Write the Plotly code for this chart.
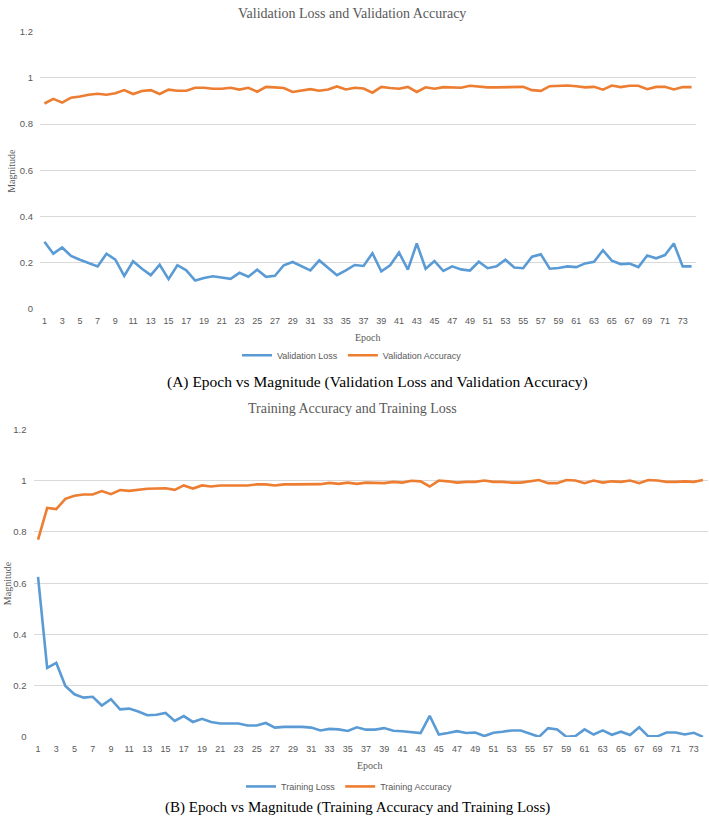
import plotly.graph_objects as go

epochs = list(range(1, 75))
tick_epochs = list(range(1, 74, 2))

val_loss = [0.291, 0.239, 0.266, 0.229, 0.213, 0.199, 0.184, 0.239, 0.213, 0.143,
            0.206, 0.174, 0.146, 0.191, 0.129, 0.189, 0.167, 0.123, 0.134, 0.141,
            0.137, 0.130, 0.156, 0.139, 0.170, 0.139, 0.143, 0.189, 0.203, 0.186,
            0.167, 0.210, 0.179, 0.146, 0.167, 0.190, 0.186, 0.241, 0.163, 0.189,
            0.244, 0.170, 0.283, 0.174, 0.207, 0.164, 0.184, 0.171, 0.166, 0.204,
            0.176, 0.184, 0.213, 0.179, 0.176, 0.226, 0.236, 0.174, 0.177, 0.184,
            0.181, 0.197, 0.204, 0.254, 0.209, 0.194, 0.196, 0.181, 0.231, 0.219,
            0.233, 0.283, 0.184, 0.184]

val_acc = [0.889, 0.909, 0.893, 0.914, 0.919, 0.927, 0.931, 0.927, 0.933, 0.947,
           0.930, 0.943, 0.947, 0.930, 0.949, 0.944, 0.944, 0.957, 0.957, 0.953,
           0.953, 0.957, 0.949, 0.957, 0.940, 0.961, 0.959, 0.956, 0.939, 0.944,
           0.951, 0.944, 0.950, 0.963, 0.950, 0.957, 0.954, 0.936, 0.961, 0.956,
           0.953, 0.961, 0.939, 0.959, 0.953, 0.960, 0.960, 0.957, 0.966, 0.961,
           0.959, 0.959, 0.959, 0.961, 0.961, 0.947, 0.944, 0.964, 0.967, 0.967,
           0.964, 0.959, 0.961, 0.949, 0.967, 0.960, 0.966, 0.966, 0.951, 0.961,
           0.961, 0.950, 0.960, 0.960]

train_loss = [0.625, 0.270, 0.289, 0.199, 0.167, 0.154, 0.157, 0.123, 0.148, 0.108,
              0.111, 0.100, 0.085, 0.087, 0.094, 0.063, 0.082, 0.059, 0.071, 0.059,
              0.053, 0.053, 0.053, 0.045, 0.045, 0.055, 0.037, 0.040, 0.040, 0.040,
              0.037, 0.026, 0.032, 0.030, 0.024, 0.038, 0.029, 0.029, 0.035, 0.025,
              0.023, 0.019, 0.016, 0.083, 0.010, 0.016, 0.023, 0.016, 0.018, 0.004,
              0.017, 0.021, 0.026, 0.026, 0.013, 0.001, 0.035, 0.030, 0.001, 0.004,
              0.030, 0.010, 0.026, 0.009, 0.021, 0.008, 0.038, 0.003, 0.003, 0.018,
              0.018, 0.010, 0.017, 0.001]

train_acc = [0.770, 0.893, 0.889, 0.929, 0.941, 0.946, 0.946, 0.959, 0.947, 0.963,
             0.960, 0.965, 0.968, 0.969, 0.970, 0.964, 0.981, 0.969, 0.981, 0.977,
             0.981, 0.981, 0.982, 0.981, 0.985, 0.985, 0.981, 0.985, 0.985, 0.985,
             0.987, 0.986, 0.991, 0.987, 0.992, 0.987, 0.992, 0.992, 0.990, 0.995,
             0.992, 0.999, 0.997, 0.977, 1.000, 0.997, 0.992, 0.995, 0.995, 1.000,
             0.995, 0.995, 0.992, 0.992, 0.997, 1.002, 0.990, 0.990, 1.002, 1.000,
             0.990, 1.000, 0.992, 0.997, 0.995, 1.000, 0.990, 1.002, 1.000, 0.995,
             0.995, 0.997, 0.995, 1.002]

y_ticks = [0, 0.2, 0.4, 0.6, 0.8, 1.0, 1.2]
y_tick_text = ["0", "0.2", "0.4", "0.6", "0.8", "1", "1.2"]

BLUE = "#5b9bd5"
ORANGE = "#ed7d31"
GRAY = "#595959"
GRID = "#d9d9d9"
W, H = 709, 823
SERIF = "Liberation Serif"
SANS = "Liberation Sans"


def px(x):
    return x / W


def py(y):
    return 1 - y / H


fig = go.Figure()
fig.add_trace(go.Scatter(x=epochs, y=val_loss, mode="lines", name="Validation Loss",
                         line=dict(color=BLUE, width=2.6), xaxis="x", yaxis="y", legend="legend"))
fig.add_trace(go.Scatter(x=epochs, y=val_acc, mode="lines", name="Validation Accuracy",
                         line=dict(color=ORANGE, width=2.6), xaxis="x", yaxis="y", legend="legend"))
fig.add_trace(go.Scatter(x=epochs, y=train_loss, mode="lines", name="Training Loss",
                         line=dict(color=BLUE, width=2.6), xaxis="x2", yaxis="y2", legend="legend2"))
fig.add_trace(go.Scatter(x=epochs, y=train_acc, mode="lines", name="Training Accuracy",
                         line=dict(color=ORANGE, width=2.6), xaxis="x2", yaxis="y2", legend="legend2"))

xcommon = dict(range=[0.5, 74.5], tickmode="array", tickvals=tick_epochs,
               ticktext=[str(t) for t in tick_epochs], showgrid=False, zeroline=False,
               showline=False, ticks="", tickfont=dict(family=SANS, size=9, color=GRAY),
               ticklabelstandoff=5, fixedrange=True)
ycommon = dict(range=[0, 1.2], tickmode="array", tickvals=y_ticks, ticktext=y_tick_text,
               showgrid=True, gridcolor=GRID, gridwidth=1, zeroline=False, showline=False,
               ticks="", tickfont=dict(family=SANS, size=9.5, color=GRAY),
               ticklabelstandoff=6, fixedrange=True)

legend_common = dict(orientation="h", xanchor="center", yanchor="middle",
                     font=dict(family=SANS, size=9, color=GRAY), bgcolor="rgba(0,0,0,0)",
                     itemwidth=30, tracegroupgap=0)

fig.update_layout(
    width=W, height=H,
    margin=dict(l=0, r=0, t=0, b=0),
    paper_bgcolor="white", plot_bgcolor="white",
    xaxis=dict(domain=[px(40), px(696)], anchor="y", **xcommon),
    yaxis=dict(domain=[py(307), py(26)], anchor="x", **ycommon),
    xaxis2=dict(domain=[px(33.5), px(707.5)], anchor="y2", **xcommon),
    yaxis2=dict(domain=[py(741), py(429)], anchor="x2", **ycommon),
    legend=dict(x=px(352), y=py(354), **legend_common),
    legend2=dict(x=px(349), y=py(791), **legend_common),
)

annots = [
    dict(text="Validation Loss and Validation Accuracy", x=px(352), y=py(8),
         font=dict(family=SERIF, size=14, color=GRAY)),
    dict(text="Epoch", x=px(368), y=py(336), font=dict(family=SERIF, size=10, color=GRAY)),
    dict(text="Magnitude", x=px(12), y=py(167), textangle=-90,
         font=dict(family=SERIF, size=10, color=GRAY)),
    dict(text="(A) Epoch vs Magnitude (Validation Loss and Validation Accuracy)", x=px(378), y=py(381),
         font=dict(family=SERIF, size=15.5, color="black")),
    dict(text="Training Accuracy and Training Loss", x=px(352), y=py(408),
         font=dict(family=SERIF, size=14, color=GRAY)),
    dict(text="Epoch", x=px(370), y=py(770), font=dict(family=SERIF, size=10, color=GRAY)),
    dict(text="Magnitude", x=px(7), y=py(585), textangle=-90,
         font=dict(family=SERIF, size=10, color=GRAY)),
    dict(text="(B) Epoch vs Magnitude (Training Accuracy and Training Loss)", x=px(357), y=py(812),
         font=dict(family=SERIF, size=15, color="black")),
]
for a in annots:
    fig.add_annotation(xref="paper", yref="paper", showarrow=False,
                       xanchor="center", yanchor="middle", **a)

fig.write_html(
    "out.html",
    config={"displayModeBar": False},
    post_script="document.body.style.margin='0';document.body.style.overflow='hidden';"
                "document.documentElement.style.overflow='hidden';",
)
